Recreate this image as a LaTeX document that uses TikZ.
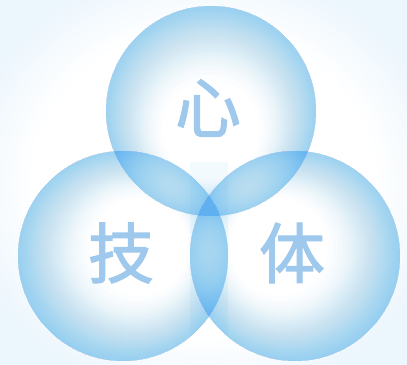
\documentclass[tikz,border=0pt]{standalone}
\usepackage{fontspec}
\newfontfamily\cjk[FakeBold=1.8]{Noto Sans CJK SC}
\definecolor{bubbleblue}{RGB}{66,176,240}
\definecolor{txtblue}{RGB}{158,200,236}
\definecolor{bgblue}{RGB}{236,246,253}
\pgfdeclareradialshading{bgshade}{\pgfpointorigin}{color(0bp)=(white); color(21bp)=(white); color(30bp)=(bgblue); color(50bp)=(bgblue)}
\tikzset{
  lbl/.style={font=\cjk\fontsize{66}{66}\selectfont, text=txtblue, inner sep=0pt},
  layer/.style={fill=bubbleblue, fill opacity=0.019, even odd rule},
  band/.style={fill=bubbleblue, fill opacity=0.06}
}
% #1,#2 centre ; #3,#4 focal point of the gradient
\newcommand{\drawbubble}[4]{%
  \foreach \k in {1,...,32}{%
    \pgfmathsetmacro{\tt}{0.38+0.62*(\k/32)^(1/1.8)}%
    \pgfmathsetmacro{\ccx}{#3+\tt*(#1-#3)}%
    \pgfmathsetmacro{\ccy}{#4+\tt*(#2-#4)}%
    \pgfmathsetmacro{\rr}{\tt*105}%
    \path[layer] (#1,#2) circle[radius=105bp] (\ccx,\ccy) circle[radius=\rr bp];
  }}
\begin{document}
\begin{tikzpicture}[x=1bp,y=-1bp]
  \useasboundingbox (0,0) rectangle (407,365);
  \shade[shading=bgshade] (0,0) rectangle (407,365);
  \coordinate (ctop) at (211,111);
  \coordinate (cleft) at (123,256);
  \coordinate (cright) at (295,256);
  \drawbubble{211}{111}{211}{146}
  \drawbubble{123}{256}{153.5}{239}
  \drawbubble{295}{256}{264.5}{239}
  \begin{scope}
    \clip (ctop) circle[radius=105bp] (cleft) circle[radius=105bp] (cright) circle[radius=105bp];
    \path[band] (190,162) rectangle (228,337);
  \end{scope}
  \node[lbl] (xin) at (208,108) {心};
  \node[lbl] (ji) at (121,253) {技};
  \node[lbl] (ti) at (292,253) {体};
\end{tikzpicture}
\end{document}
